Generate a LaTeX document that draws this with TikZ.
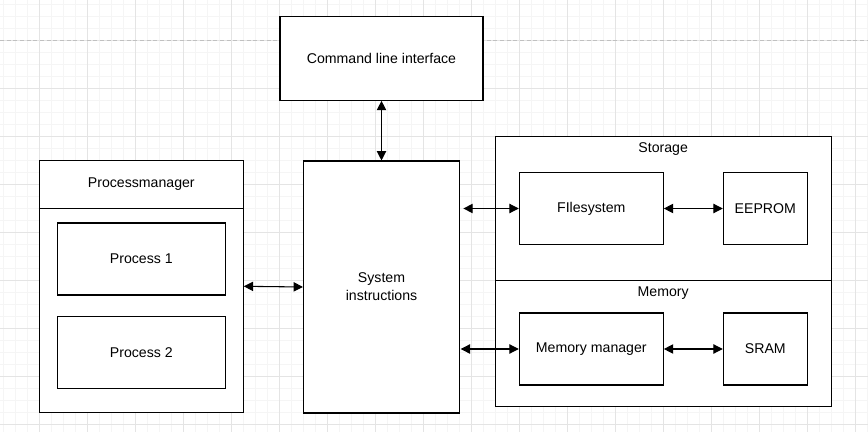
\documentclass[tikz,border=0pt]{standalone}
\usepackage{fontspec}
\setmainfont{Liberation Sans}
\usetikzlibrary{arrows.meta}
\definecolor{gridminor}{HTML}{F5F5F5}
\definecolor{gridmajor}{HTML}{E4E4E4}
\definecolor{pagebreak}{HTML}{C0C0C0}
\tikzset{
  box/.style={draw=black, line width=0.8pt, fill=white, inner sep=0pt, font=\fontsize{10.6}{13.5}\selectfont, align=center},
  lbl/.style={inner sep=0pt, font=\fontsize{10.6}{13.5}\selectfont},
  arr/.style={line width=0.8pt, {Triangle[length=7pt,width=7pt]}-{Triangle[length=7pt,width=7pt]}},
}
\begin{document}
\begin{tikzpicture}[x=0.75pt,y=-0.75pt]
\useasboundingbox (0,0) rectangle (868,432);
\fill[white] (0,0) rectangle (868,432);
% grid
\foreach \i in {0,...,72} {\draw[gridminor, line width=0.75pt] ({3.3+12*\i},0) -- ({3.3+12*\i},432);}
\foreach \i in {0,...,36} {\draw[gridminor, line width=0.75pt] (0,{4.3+12*\i}) -- (868,{4.3+12*\i});}
\foreach \i in {0,...,18} {\draw[gridmajor, line width=0.75pt] ({39.3+48*\i},0) -- ({39.3+48*\i},432);}
\foreach \i in {0,...,8} {\draw[gridmajor, line width=0.75pt] (0,{40.3+48*\i}) -- (868,{40.3+48*\i});}
\draw[pagebreak, line width=0.75pt, dash pattern=on 3pt off 2pt] (0,40.3) -- (868,40.3);

% boxes
\node[box, minimum width=152.25pt, minimum height=63pt] (CLI) at (381.5,58.3) {Command line interface};
\node[box, minimum width=153pt, minimum height=189pt] (PM) at (141.3,286.3) {};
\draw[line width=0.8pt] (PM.west |- 0,208.7) coordinate (PMl) -- (PM.east |- PMl);
\node[lbl] (PMt) at (141.3,184.5) {Processmanager};
\node[box, minimum width=126pt, minimum height=54pt] (P1) at (141.3,259) {Process 1};
\node[box, minimum width=126pt, minimum height=54pt] (P2) at (141.3,352.7) {Process 2};
\node[box, minimum width=117pt, minimum height=189pt] (SI) at (381.5,287) {System\\instructions};
\node[box, minimum width=252pt, minimum height=108pt] (ST) at (663.2,208.5) {};
\node[lbl] (STt) at (663.2,149.3) {Storage};
\node[box, minimum width=252pt, minimum height=94.5pt] (ME) at (663.2,343.5) {};
\node[lbl] (MEt) at (663.2,293.5) {Memory};
\node[box, minimum width=108pt, minimum height=54pt] (FS) at (591.3,208.5) {FIlesystem};
\node[box, minimum width=63pt, minimum height=54pt] (EE) at (765.3,208.5) {EEPROM};
\node[box, minimum width=108pt, minimum height=54pt] (MM) at (591.3,349) {Memory manager};
\node[box, minimum width=63pt, minimum height=54pt] (SR) at (765.3,349) {SRAM};

% connectors
\draw[arr] (CLI.south) -- (SI.north);
\draw[arr] (PM.east) -- (SI.west);
\draw[arr, shorten <=2.5pt] (SI.east |- FS.west) -- (FS.west);
\draw[arr, shorten <=0.5pt] (SI.east |- MM.west) -- (MM.west);
\draw[arr] (FS.east) -- (EE.west);
\draw[arr] (MM.east) -- (SR.west);
\end{tikzpicture}
\end{document}
